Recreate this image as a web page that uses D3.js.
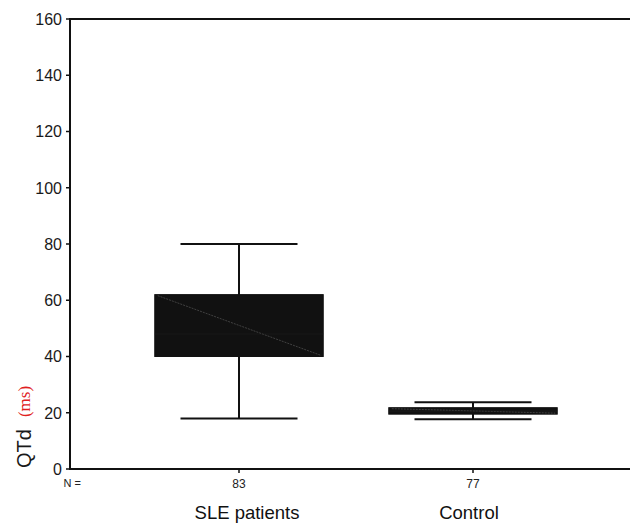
<!DOCTYPE html>
<html><head><meta charset="utf-8">
<script src="https://cdn.jsdelivr.net/npm/d3@7"></script>
<style>body{margin:0;background:#fff}svg{display:block}</style>
</head><body>
<script>
const categories = ["SLE patients", "Control"];
const counts = [83, 77];
const whiskerLow = [18, 17.7];
const q1 = [40, 19.5];
const median = [48, 20.6];
const q3 = [62, 21.8];
const whiskerHigh = [80, 23.7];
const yTicks = [0, 20, 40, 60, 80, 100, 120, 140, 160];

const W = 630, H = 525;
const svg = d3.select("body").append("svg").attr("width", W).attr("height", H);
const font = "'Liberation Sans', Arial, Helvetica, sans-serif";

const y = d3.scaleLinear().domain([0, 160]).range([469, 19]);
const x = d3.scaleBand().domain(categories).range([122, 590]).padding(0);
const bw = x.bandwidth();
const cx = c => x(c) + bw / 2;

// axes frame
svg.append("line").attr("x1", 70).attr("x2", 630).attr("y1", y(160)).attr("y2", y(160)).attr("stroke", "#111").attr("stroke-width", 1.8);
svg.append("line").attr("x1", 70).attr("x2", 630).attr("y1", y(0)).attr("y2", y(0)).attr("stroke", "#111").attr("stroke-width", 2);
svg.append("line").attr("x1", 70).attr("x2", 70).attr("y1", y(160) - 1).attr("y2", y(0) + 1).attr("stroke", "#111").attr("stroke-width", 2);

// y ticks
const yAxis = svg.append("g");
yTicks.forEach(t => {
  yAxis.append("line").attr("x1", 66).attr("x2", 70).attr("y1", y(t)).attr("y2", y(t)).attr("stroke", "#111").attr("stroke-width", 1.5);
  yAxis.append("text").attr("x", 62).attr("y", y(t)).attr("dy", "0.36em").attr("text-anchor", "end")
    .attr("font-family", font).attr("font-size", 16).attr("fill", "#1a1a1a").text(t);
});

// y title
const yt = svg.append("text").attr("transform", `translate(31,${y(0) - 1}) rotate(-90)`).attr("text-anchor", "start");
yt.append("tspan").attr("font-family", font).attr("font-size", 20).attr("fill", "#1a1a1a").text("QTd");
yt.append("tspan").attr("font-family", "'Liberation Serif', 'Times New Roman', serif").attr("font-size", 17).attr("fill", "#e02020").attr("dx", 12).attr("dy", -1).text("(ms)");

// x ticks, N labels
svg.append("text").attr("x", 81).attr("y", 487).attr("text-anchor", "end").attr("font-family", font).attr("font-size", 11).attr("fill", "#222").text("N =");
categories.forEach((c, i) => {
  svg.append("line").attr("x1", cx(c)).attr("x2", cx(c)).attr("y1", y(0)).attr("y2", y(0) + 4).attr("stroke", "#111").attr("stroke-width", 1.5);
  svg.append("text").attr("x", cx(c)).attr("y", 488).attr("text-anchor", "middle").attr("font-family", font).attr("font-size", 12).attr("fill", "#222").text(counts[i]);
  svg.append("text").attr("x", cx(c) + (i === 0 ? 8 : -4)).attr("y", 519).attr("text-anchor", "middle").attr("font-family", font).attr("font-size", 18.5).attr("fill", "#111").text(c);
});

// boxes
const boxW = bw * 0.72, capW = bw * 0.5;
categories.forEach((c, i) => {
  const g = svg.append("g");
  const m = cx(c);
  g.append("line").attr("x1", m).attr("x2", m).attr("y1", y(whiskerHigh[i])).attr("y2", y(whiskerLow[i])).attr("stroke", "#111").attr("stroke-width", 2);
  g.append("line").attr("x1", m - capW / 2).attr("x2", m + capW / 2).attr("y1", y(whiskerHigh[i])).attr("y2", y(whiskerHigh[i])).attr("stroke", "#111").attr("stroke-width", 2);
  g.append("line").attr("x1", m - capW / 2).attr("x2", m + capW / 2).attr("y1", y(whiskerLow[i])).attr("y2", y(whiskerLow[i])).attr("stroke", "#111").attr("stroke-width", 2);
  g.append("rect").attr("x", m - boxW / 2).attr("y", y(q3[i])).attr("width", boxW).attr("height", y(q1[i]) - y(q3[i]))
    .attr("fill", "#111").attr("stroke", "#111").attr("stroke-width", 1);
  g.append("line").attr("x1", m - boxW / 2 + 3).attr("x2", m + boxW / 2 - 2).attr("y1", y(q3[i]) + 1).attr("y2", y(q1[i]) - 1)
    .attr("stroke", "#555").attr("stroke-width", 0.7).attr("stroke-dasharray", "2,1");
  g.append("line").attr("x1", m - boxW / 2).attr("x2", m + boxW / 2).attr("y1", y(median[i])).attr("y2", y(median[i]))
    .attr("stroke", "#222").attr("stroke-width", 0.5);
});
</script>
</body></html>
